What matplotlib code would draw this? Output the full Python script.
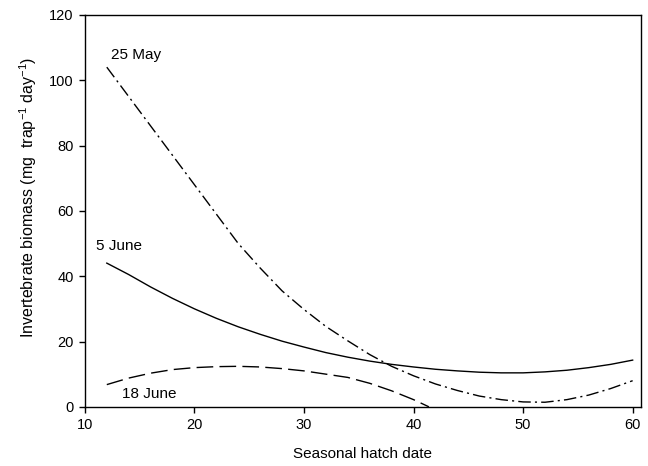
import matplotlib
matplotlib.use("Agg")
import matplotlib.pyplot as plt

plt.rcParams["font.family"] = ["Liberation Sans", "DejaVu Sans"]
plt.rcParams["mathtext.fontset"] = "custom"
plt.rcParams["mathtext.rm"] = "Liberation Sans"
plt.rcParams["mathtext.it"] = "Liberation Sans:italic"

# hatch date grid (x) shared by the two full-range curves
hatch_date = [12, 14, 16, 18, 20, 22, 24, 26, 28, 30, 32, 34, 36, 38, 40,
              42, 44, 46, 48, 50, 52, 54, 56, 58, 60]

may25 = [104, 95, 86, 77, 68, 59, 50, 42.5, 35.5, 29.8, 24.6, 20.2, 16.0,
         12.4, 9.5, 7.0, 5.0, 3.3, 2.2, 1.5, 1.4, 2.2, 3.6, 5.6, 8.0]

june5 = [44, 40.5, 36.7, 33.2, 30.0, 27.1, 24.5, 22.2, 20.1, 18.3, 16.6,
         15.2, 14.0, 13.0, 12.2, 11.5, 11.0, 10.6, 10.4, 10.4, 10.7, 11.2,
         12.0, 13.0, 14.3]

june18_x = [12, 14, 16, 18, 20, 22, 24, 26, 28, 30, 32, 34, 36, 38, 40, 41.4]
june18 = [6.8, 8.8, 10.3, 11.4, 12.0, 12.3, 12.4, 12.2, 11.7, 11.0, 10.0,
          9.0, 7.2, 4.9, 2.2, 0.0]

labels = ["25 May", "5 June", "18 June"]
label_pos = [(12.4, 107.6), (11.0, 49.2), (13.4, 4.0)]

fig = plt.figure(figsize=(6.48, 4.66), dpi=100)
ax = fig.add_axes([0.131, 0.127, 0.858, 0.841])

ax.plot(hatch_date, may25, color="black", lw=1.0, linestyle=(0, (9, 3, 1.5, 3)))
ax.plot(hatch_date, june5, color="black", lw=1.0, linestyle="-")
ax.plot(june18_x, june18, color="black", lw=1.0, linestyle=(0, (12, 4.5)))

for text, (tx, ty) in zip(labels, label_pos):
    ax.text(tx, ty, text, fontsize=11, ha="left", va="center")

ax.set_xlim(10, 60.75)
ax.set_ylim(0, 120)
ax.set_xticks([10, 20, 30, 40, 50, 60])
ax.set_yticks([0, 20, 40, 60, 80, 100, 120])
ax.tick_params(direction="out", length=4.5, width=1, labelsize=10.5,
               top=False, right=False)
for s in ax.spines.values():
    s.set_linewidth(1.0)

ax.set_xlabel("Seasonal hatch date", fontsize=11, labelpad=11)
ax.set_ylabel(r"Invertebrate biomass (mg  trap$^{-1}$ day$^{-1}$)",
              fontsize=11.5)
ax.yaxis.set_label_coords(-0.082, 0.535)

fig.savefig("out.png", dpi=100)
plt.close(fig)
